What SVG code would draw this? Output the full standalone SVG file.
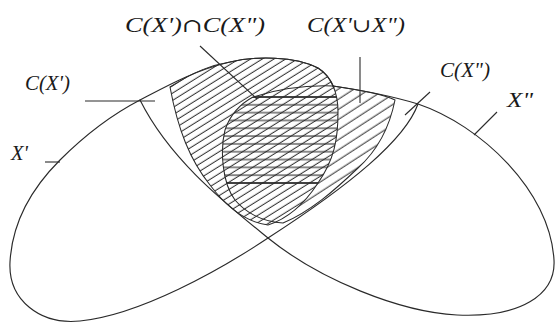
<svg xmlns="http://www.w3.org/2000/svg" width="557" height="323" viewBox="0 0 557 323">
<style>
.edge{fill:none;stroke:#2a2a2a;stroke-width:1.15;stroke-linejoin:round;stroke-linecap:round}
.thin{fill:none;stroke:#2a2a2a;stroke-width:1.05}
.ptr{fill:none;stroke:#2a2a2a;stroke-width:1.1}
.lbl{font-family:"Liberation Serif","Times New Roman",serif;font-style:italic;font-size:20px;fill:#1a1a1a}
.sym{font-family:"DejaVu Serif","Liberation Serif",serif;font-style:normal;font-size:19px}
</style>
<defs>
<pattern id="dense" patternUnits="userSpaceOnUse" width="20" height="6.2" patternTransform="rotate(-32)">
<line x1="0" y1="3" x2="20" y2="3" stroke="#2a2a2a" stroke-width="1"/>
</pattern>
<pattern id="sparse" patternUnits="userSpaceOnUse" width="20" height="8.5" patternTransform="rotate(-33)">
<line x1="0" y1="4" x2="20" y2="4" stroke="#2a2a2a" stroke-width="1"/>
</pattern>
<pattern id="horiz" patternUnits="userSpaceOnUse" x="0" y="96" width="20" height="7.818">
<line x1="0" y1="1" x2="20" y2="1" stroke="#2a2a2a" stroke-width="1.1"/>
</pattern>
<path id="o1" d="M170,87 C195,71 212,65 230,62 C255,56 295,56 318,68 C331,76 338,92 338,112 C338,140 334,160 318,183 C305,203 290,218 268,225 C245,222 225,205 210,185 C190,160 178,130 170,87 Z"/>
<path id="o2" d="M253,97 C275,90 305,85 333,86 C360,90 385,95 395,100 C390,125 378,150 358,168 C335,190 310,212 283,223 C262,222 245,212 235,200 C222,183 220,150 225,130 C230,115 240,104 253,97 Z"/>
<clipPath id="c1"><use href="#o1"/></clipPath>
<clipPath id="c2"><use href="#o2"/></clipPath>
</defs>
<rect width="557" height="323" fill="#ffffff"/>

<g id="C_X2">
<use href="#o2" fill="#ffffff"/>
<use href="#o2" fill="url(#sparse)"/>
</g>
<g id="C_X1">
<use href="#o1" fill="#ffffff"/>
<use href="#o1" fill="url(#dense)"/>
</g>
<g id="C_X1_cap_C_X2">
<g clip-path="url(#c1)">
<g clip-path="url(#c2)">
<rect x="200" y="96" width="160" height="88" fill="url(#horiz)"/>
<line x1="200" y1="97" x2="360" y2="97" stroke="#2a2a2a" stroke-width="1.4"/>
<line x1="200" y1="183" x2="360" y2="183" stroke="#2a2a2a" stroke-width="1.3"/>
</g>
</g>
</g>
<g id="region_edges">
<use href="#o1" class="thin"/>
<use href="#o2" class="thin"/>
</g>

<g id="X1">
<path class="edge" d="M418,104 C405,140 350,185 268,238 C220,270 140,315 80,321 C40,325 8,300 10,262 C12,225 30,190 60,160 C90,130 115,113 140,100 C165,87 195,70 230,62 C255,56 295,56 318,68 C326,73 331,80 334,88"/>
</g>
<g id="X2">
<path class="edge" d="M333,86 C360,90 395,97 418,104 C480,125 550,190 554,260 C556,295 520,318 457,315 C400,312 320,280 268,238 C225,203 170,160 140,100"/>
</g>

<g id="connectors">
<line class="ptr" x1="200" y1="46" x2="257" y2="99"/>
<line class="ptr" x1="360" y1="57" x2="360" y2="103"/>
<line class="ptr" x1="85" y1="101" x2="155" y2="101"/>
<line class="ptr" x1="430" y1="92" x2="405" y2="115"/>
<line class="ptr" x1="497" y1="112" x2="474" y2="135"/>
<line class="ptr" x1="45" y1="162" x2="60" y2="162"/>
</g>

<g id="labels">
<text class="lbl" x="125" y="32" textLength="140" lengthAdjust="spacingAndGlyphs">C(X')<tspan class="sym">∩</tspan>C(X")</text>
<text class="lbl" x="307" y="32" textLength="98" lengthAdjust="spacingAndGlyphs">C(X'<tspan class="sym">∪</tspan>X")</text>
<text class="lbl" x="25" y="90" textLength="45" lengthAdjust="spacingAndGlyphs">C(X')</text>
<text class="lbl" x="440" y="77" textLength="50" lengthAdjust="spacingAndGlyphs">C(X")</text>
<text class="lbl" x="507" y="107" textLength="26" lengthAdjust="spacingAndGlyphs">X"</text>
<text class="lbl" x="11" y="160" textLength="17" lengthAdjust="spacingAndGlyphs">X'</text>
</g>
</svg>
